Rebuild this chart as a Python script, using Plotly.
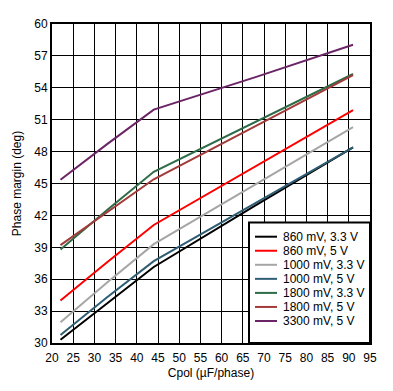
import plotly.graph_objects as go

cpol = [22, 33, 44, 68, 91]
series_names = ["860 mV, 3.3 V", "860 mV, 5 V", "1000 mV, 3.3 V", "1000 mV, 5 V",
                "1800 mV, 3.3 V", "1800 mV, 5 V", "3300 mV, 5 V"]
pm_860_33 = [30.3, 33.7, 37.15, 42.95, 48.4]
pm_860_5 = [34.0, 37.6, 41.1, 46.6, 51.9]
pm_1000_33 = [31.95, 35.7, 39.3, 44.9, 50.3]
pm_1000_5 = [30.75, 34.3, 37.7, 43.2, 48.4]
pm_1800_33 = [38.8, 42.5, 46.1, 50.8, 55.3]
pm_1800_5 = [39.2, 42.3, 45.4, 50.4, 55.2]
pm_3300_5 = [45.35, 48.7, 51.95, 55.0, 58.05]
series_values = [pm_860_33, pm_860_5, pm_1000_33, pm_1000_5, pm_1800_33, pm_1800_5, pm_3300_5]
colors = ["#000000", "#FF0000", "#A6A6A6", "#2F5D74", "#2E6B46", "#A23B3A", "#6B2566"]

FONT = "Arial, Liberation Sans, sans-serif"

fig = go.Figure()
for name, vals, c in zip(series_names, series_values, colors):
    fig.add_trace(go.Scatter(x=cpol, y=vals, mode="lines", name=name,
                             line=dict(color=c, width=2), showlegend=False))

W, H = 393, 391
L, R, T, B = 52, 23, 24, 48
pw, ph = W - L - R, H - T - B

def px(xp):
    return (xp - L) / pw

def py(yp):
    return (H - B - yp) / ph

shapes = [dict(type="rect", xref="paper", yref="paper",
               x0=px(249), x1=1.0, y0=0.0, y1=py(222.5),
               line=dict(color="black", width=2), fillcolor="white", layer="above")]
annotations = []
row0, step = 236.7, 14.05
for i, (name, c) in enumerate(zip(series_names, colors)):
    yy = py(row0 + i * step)
    shapes.append(dict(type="line", xref="paper", yref="paper",
                       x0=px(255), x1=px(277), y0=yy, y1=yy,
                       line=dict(color=c, width=2), layer="above"))
    annotations.append(dict(xref="paper", yref="paper", x=px(281), y=yy,
                            text=name, showarrow=False, xanchor="left", yanchor="middle",
                            font=dict(family=FONT, size=12, color="black")))

fig.update_layout(
    width=W, height=H,
    margin=dict(l=L, r=R, t=T, b=B),
    paper_bgcolor="white", plot_bgcolor="white",
    font=dict(family=FONT, size=12, color="black"),
    shapes=shapes, annotations=annotations,
    xaxis=dict(range=[20, 95], dtick=5, tick0=20, showgrid=True, gridcolor="black", gridwidth=1,
               showline=True, linecolor="black", linewidth=2, mirror=True, zeroline=False,
               ticks="outside", ticklen=3, tickcolor="rgba(0,0,0,0)", automargin=False,
               title=dict(text="Cpol (µF/phase)", standoff=4, font=dict(size=12))),
    yaxis=dict(range=[30, 60], dtick=3, tick0=30, showgrid=True, gridcolor="black", gridwidth=1,
               showline=True, linecolor="black", linewidth=2, mirror=True, zeroline=False,
               ticks="", automargin=False,
               title=dict(text="Phase margin (deg)", standoff=10, font=dict(size=12))),
)

fig.write_html("out.html", config={"displayModeBar": False},
               post_script="document.body.style.margin='0';document.body.style.padding='0';")
